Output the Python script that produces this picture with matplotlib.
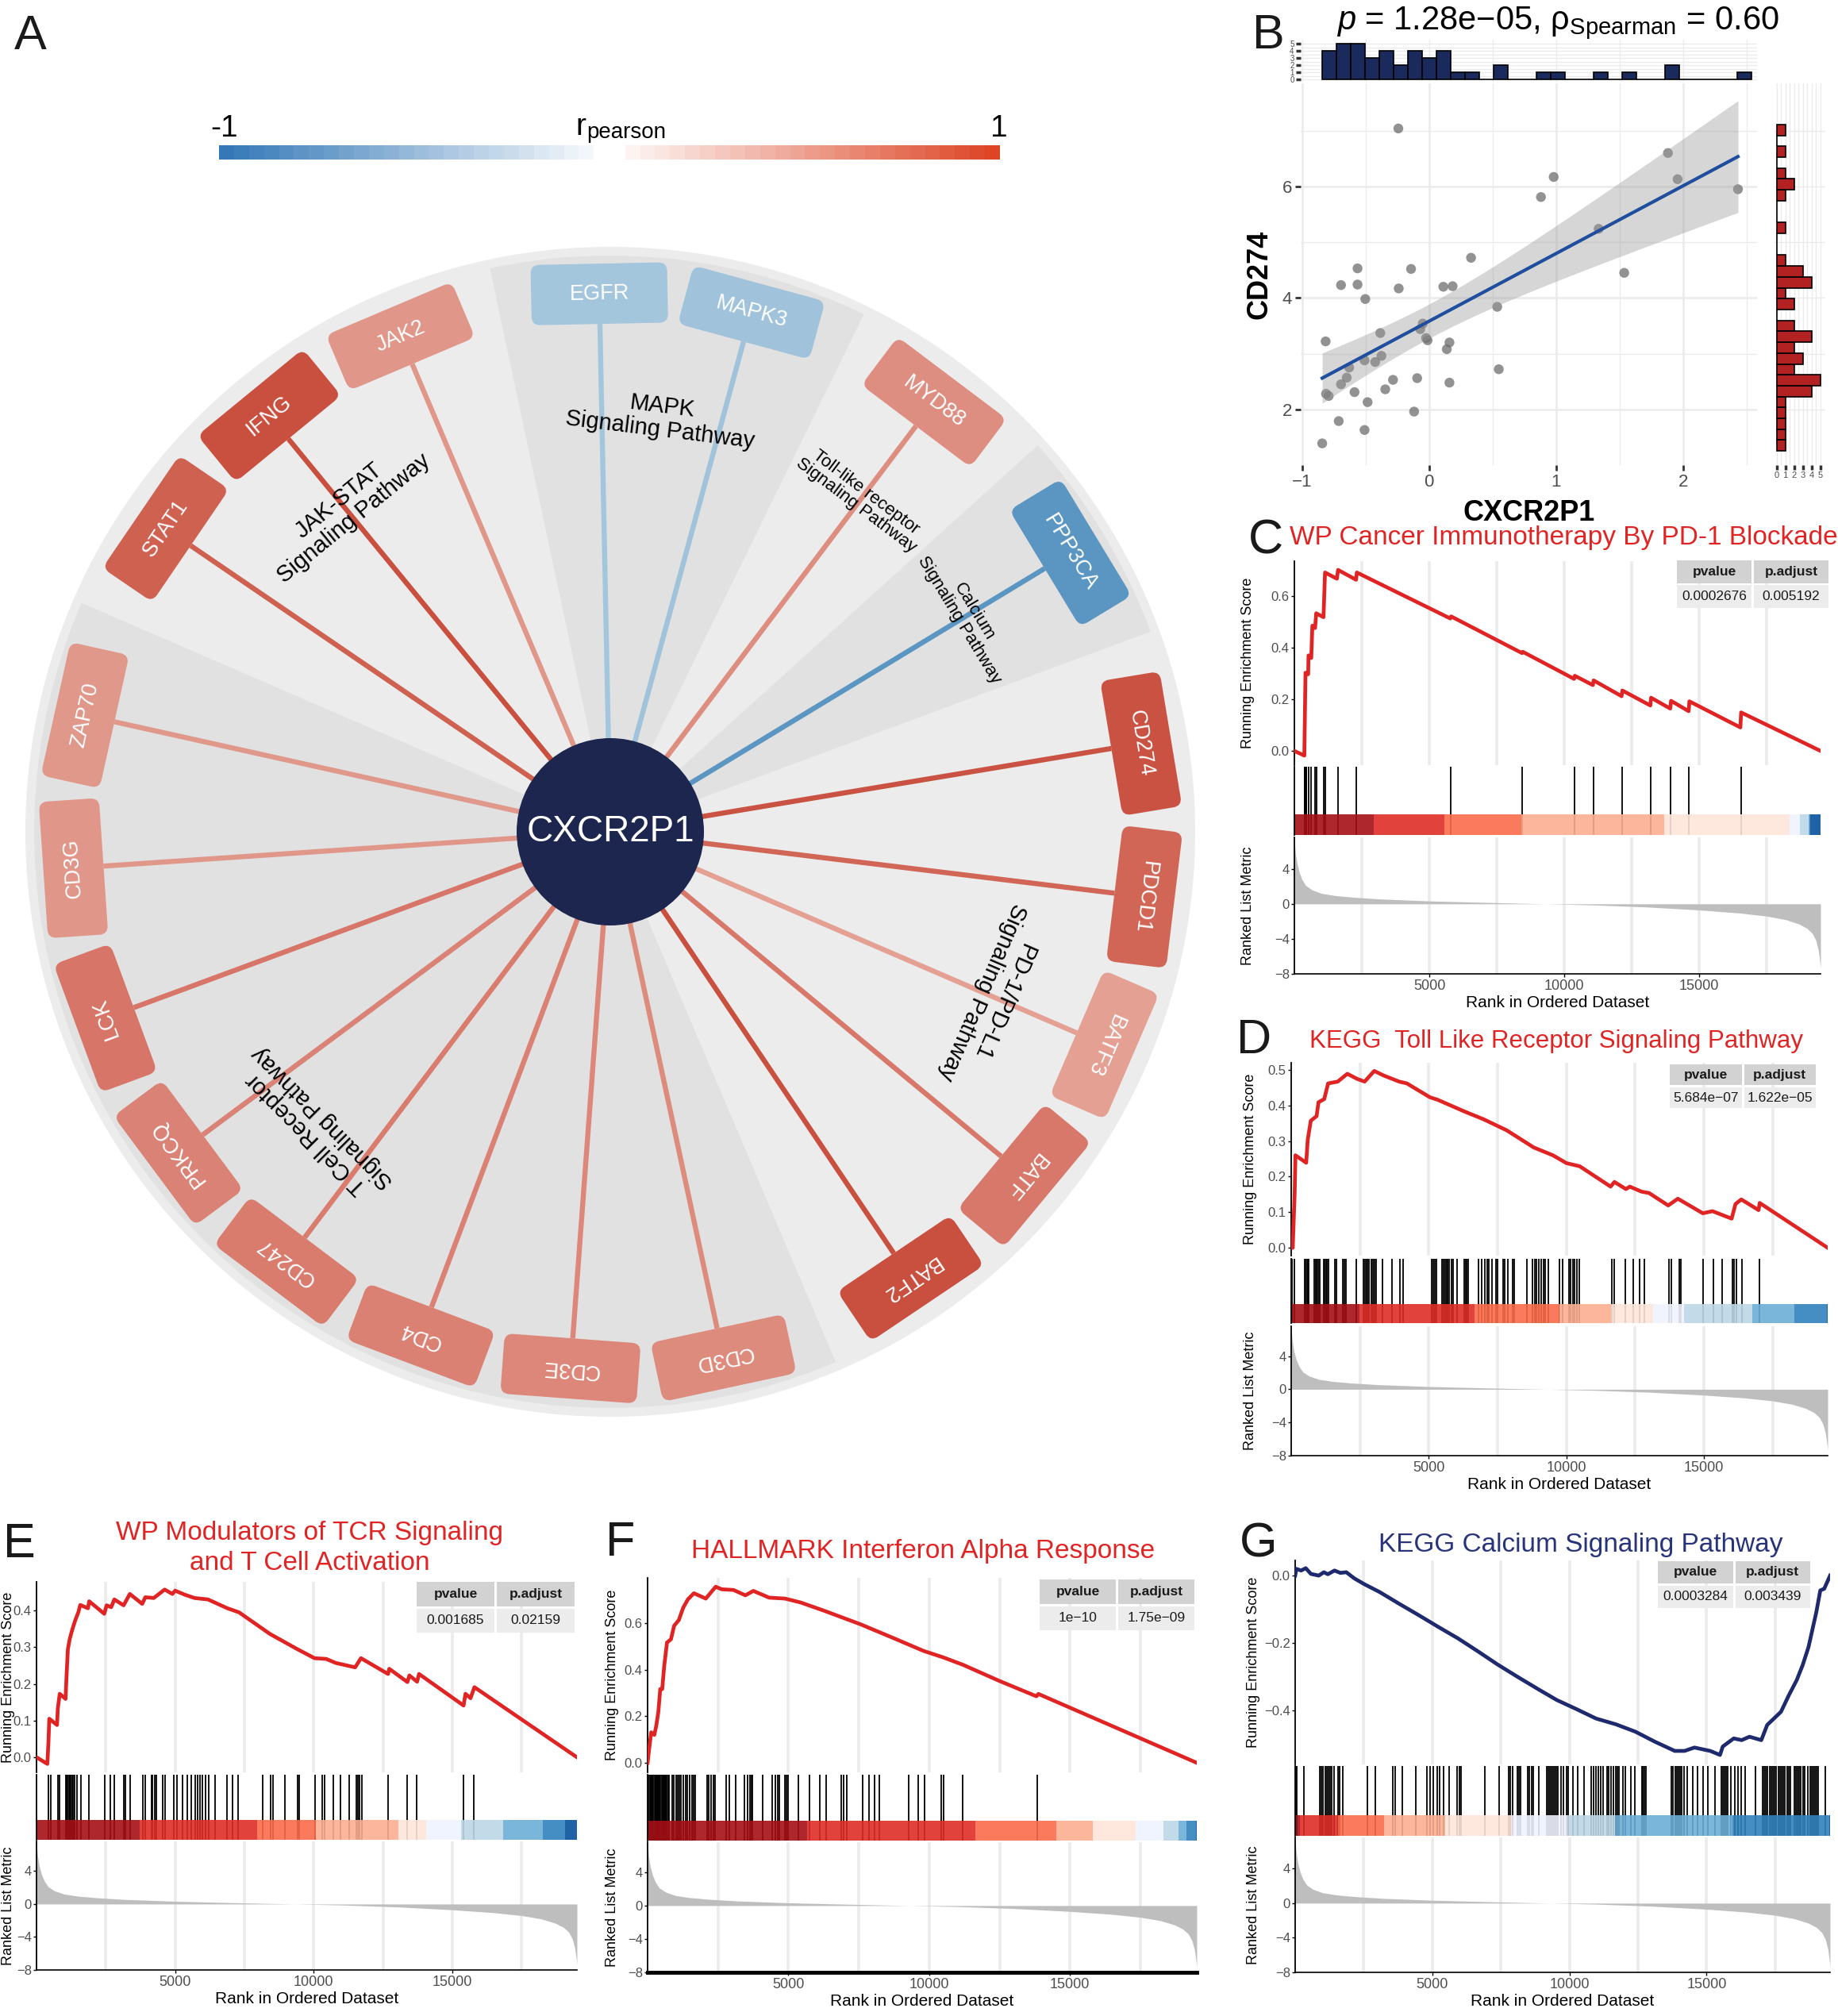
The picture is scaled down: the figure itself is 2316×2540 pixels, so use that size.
import numpy as np
import matplotlib
matplotlib.use("Agg")
import matplotlib.pyplot as plt
from matplotlib.patches import Rectangle, FancyBboxPatch, Circle, Wedge
from matplotlib.colors import LinearSegmentedColormap, Normalize
from matplotlib.transforms import Affine2D
from matplotlib.ticker import FuncFormatter

plt.rcParams['font.family'] = ['Liberation Sans', 'DejaVu Sans']
plt.rcParams['mathtext.fontset'] = 'custom'
plt.rcParams['mathtext.rm'] = 'Liberation Sans'
plt.rcParams['mathtext.it'] = 'Liberation Sans:italic'
plt.rcParams['mathtext.bf'] = 'Liberation Sans:bold'

# ===================== DATA =====================
# ---- Panel A : correlation network ----
hub_gene = 'CXCR2P1'
gene_names = ['STAT1', 'IFNG', 'JAK2', 'EGFR', 'MAPK3', 'MYD88', 'PPP3CA',
              'CD274', 'PDCD1', 'BATF3', 'BATF', 'BATF2',
              'CD3D', 'CD3E', 'CD4', 'CD247', 'PRKCQ', 'LCK', 'CD3G', 'ZAP70']
gene_r = [0.62, 0.70, 0.38, -0.35, -0.36, 0.42, -0.60,
          0.68, 0.60, 0.33, 0.52, 0.70,
          0.43, 0.45, 0.48, 0.50, 0.47, 0.53, 0.38, 0.37]
pathway_names = ['JAK-STAT\nSignaling Pathway', 'MAPK\nSignaling Pathway',
                 'Toll-like receptor\nSignaling Pathway', 'Calcium\nSignaling Pathway',
                 'PD-1/PD-L1\nSignaling Pathway', 'T Cell Receptor\nSignaling Pathway']
pathway_sizes = [3, 2, 1, 1, 5, 8]

# ---- Panel B : scatter ----
cxcr2p1_expr = [-0.242, 1.879, 0.980, 1.955, 2.43, 0.880, 1.334, 0.330, -0.563, -0.142,
                1.535, -0.693, -0.563, -0.239, 0.112, 0.185, -0.502, 0.536, -0.05, -0.070,
                -0.384, -0.024, -0.012, -0.814, 0.160, 0.139, -0.375, -0.508, -0.424, -0.629,
                0.548, -0.648, -0.094, -0.284, -0.693, 0.160, -0.345, -0.587, -0.811, -0.790,
                -0.484, -0.118, -0.711, -0.508, -0.841]
cd274_expr = [7.04, 6.60, 6.17, 6.13, 5.95, 5.81, 5.24, 4.72, 4.53, 4.52,
              4.45, 4.23, 4.24, 4.17, 4.20, 4.21, 3.98, 3.84, 3.54, 3.44,
              3.37, 3.28, 3.24, 3.22, 3.20, 3.08, 2.96, 2.88, 2.85, 2.75,
              2.72, 2.57, 2.56, 2.53, 2.45, 2.48, 2.36, 2.31, 2.28, 2.24,
              2.13, 1.96, 1.79, 1.63, 1.39]
x_hist_range = (-0.844, 2.534)
y_hist_range = (1.254, 7.11)
b_title = r'$\mathit{p}$ = 1.28e$-$05, $\mathrm{\rho}_{\mathrm{Spearman}}$ = 0.60'

# ---- GSEA panels (shared ranked list) ----
n_genes = 19500
metric_rank = [0, 40, 100, 180, 280, 420, 650, 1000, 1500, 2200, 3200, 5000, 7000, 9300,
               11000, 13000, 15000, 16500, 17500, 18200, 18700, 19000, 19200, 19330, 19420,
               19470, 19499]
metric_value = [7.3, 5.8, 4.6, 3.6, 2.8, 2.1, 1.6, 1.2, 0.95, 0.75, 0.55, 0.33, 0.17, 0.0,
                -0.12, -0.35, -0.7, -1.05, -1.4, -1.8, -2.3, -2.8, -3.4, -4.2, -5.3, -6.5, -7.3]

c_title = 'WP Cancer Immunotherapy By PD-1 Blockade'
c_es_rank = [0, 369, 412, 511, 525, 625, 667, 767, 809, 1079, 1136, 1576, 1619, 2286, 2315,
             5779, 5808, 8435, 8463, 10366, 10394, 11062, 11090, 12127, 12155, 13192, 13220,
             13930, 13959, 14612, 14640, 16529, 16557, 19500]
c_es = [0.0, -0.018, 0.303, 0.297, 0.370, 0.360, 0.485, 0.476, 0.533, 0.518, 0.691, 0.667,
        0.701, 0.663, 0.691, 0.513, 0.521, 0.379, 0.384, 0.279, 0.291, 0.255, 0.273, 0.212,
        0.234, 0.176, 0.206, 0.164, 0.194, 0.154, 0.192, 0.091, 0.149, 0.0]
c_hits = [369, 385, 400, 412, 425, 433, 440, 525, 625, 767, 809, 1079, 1136, 1619, 2286,
          5808, 8435, 10394, 11076, 12141, 13206, 13944, 14612, 16557]
c_pvalue, c_padjust = '0.0002676', '0.005192'

d_title = 'KEGG  Toll Like Receptor Signaling Pathway'
d_es_rank = [0, 56, 126, 154, 545, 601, 712, 922, 992, 1201, 1341, 1690, 2040, 2389, 2668,
             3018, 3367, 3926, 4205, 5043, 5323, 6300, 6999, 7837, 8815, 9513, 10003, 10491,
             11609, 11749, 12168, 12307, 12726, 13006, 13704, 14054, 14962, 15311, 16010,
             16149, 16359, 16987, 17029, 19500]
d_es = [0.0, 0.0, 0.154, 0.26, 0.239, 0.304, 0.357, 0.370, 0.409, 0.418, 0.462, 0.467, 0.489,
        0.475, 0.467, 0.497, 0.484, 0.467, 0.462, 0.423, 0.416, 0.383, 0.361, 0.330, 0.282,
        0.260, 0.238, 0.229, 0.172, 0.185, 0.165, 0.172, 0.158, 0.154, 0.119, 0.138, 0.097,
        0.103, 0.082, 0.123, 0.136, 0.106, 0.126, 0.0]
d_hits = [40, 110, 487, 526, 564, 603, 641, 833, 885, 923, 974, 1026, 1179, 1218, 1256, 1308,
          1359, 1577, 1641, 1885, 1936, 2000, 2372, 2628, 2679, 2731, 2782, 2833, 2923, 2974,
          3026, 3077, 3308, 3654, 3949, 4077, 5102, 5154, 5231, 5282, 5487, 5538, 5590, 5641,
          5692, 5743, 5833, 5872, 6025, 6282, 6333, 6384, 6436, 6820, 6923, 7051, 7128, 7179,
          7307, 7436, 7500, 7692, 7756, 7884, 8051, 8102, 8564, 8782, 8846, 8910, 9012, 9077,
          9166, 9230, 9359, 9743, 9871, 10102, 10153, 10230, 10307, 10384, 10461, 11666,
          11730, 12153, 12435, 12666, 12846, 13717, 13820, 14102, 14153, 14974, 15333,
          15666, 16025, 16089, 16179, 16384, 17025]
d_pvalue, d_padjust = '5.684e\u221207', '1.622e\u221205'

e_title = ['WP Modulators of TCR Signaling', 'and T Cell Activation']
e_es_rank = [0, 391, 433, 461, 740, 768, 838, 1048, 1090, 1132, 1201, 1299, 1397, 1509, 1579,
             1858, 1900, 2445, 2529, 2696, 2808, 3143, 3367, 3814, 3926, 4233, 4624, 4903,
             5001, 5351, 5700, 6189, 6887, 7306, 8424, 9402, 10030, 10450, 10799, 11497,
             11707, 12685, 12727, 13383, 13453, 13732, 13802, 15409, 15478, 15660, 15800, 19500]
e_es = [0.0, -0.018, 0.045, 0.105, 0.088, 0.132, 0.173, 0.159, 0.232, 0.295, 0.323, 0.35,
        0.373, 0.395, 0.415, 0.406, 0.425, 0.391, 0.414, 0.409, 0.43, 0.414, 0.445, 0.418,
        0.436, 0.434, 0.457, 0.445, 0.454, 0.443, 0.434, 0.43, 0.406, 0.395, 0.336, 0.295,
        0.27, 0.268, 0.257, 0.245, 0.27, 0.227, 0.241, 0.205, 0.223, 0.206, 0.227, 0.141,
        0.173, 0.161, 0.191, 0.0]
e_hits = [423, 513, 769, 833, 1051, 1090, 1128, 1167, 1205, 1244, 1282, 1320, 1372, 1449,
          1603, 1885, 2474, 2654, 2820, 3141, 3205, 3372, 3846, 3936, 4141, 4192, 4269, 4320,
          4551, 4628, 4961, 5064, 5256, 5449, 5577, 5731, 5807, 5897, 5987, 6090, 6218, 6449,
          6884, 7077, 7269, 8166, 8461, 8525, 8974, 9423, 9487, 10064, 10320, 10384, 10705,
          10961, 11282, 11538, 11602, 11666, 11730, 12692, 13371, 13717, 15410, 15769]
e_pvalue, e_padjust = '0.001685', '0.02159'

f_title = 'HALLMARK Interferon Alpha Response'
f_es_rank = [0, 70, 127, 239, 309, 380, 450, 520, 591, 689, 830, 942, 1111, 1265, 1434, 1645,
             2067, 2418, 2629, 3051, 3473, 3754, 4316, 4879, 5441, 6285, 7550, 8675, 9800,
             10503, 11206, 12471, 13807, 13877, 19500]
f_es = [0.0, 0.074, 0.131, 0.12, 0.16, 0.217, 0.317, 0.317, 0.417, 0.517, 0.531, 0.589, 0.614,
        0.667, 0.703, 0.729, 0.706, 0.757, 0.746, 0.743, 0.72, 0.739, 0.71, 0.706, 0.689,
        0.653, 0.596, 0.539, 0.481, 0.453, 0.421, 0.353, 0.286, 0.296, 0.0]
f_hits = [38, 75, 114, 150, 177, 210, 241, 270, 304, 340, 368, 400, 431, 460, 495, 530, 558,
          590, 622, 650, 685, 720, 749, 876, 939, 1003, 1066, 1130, 1193, 1282, 1358, 1409,
          1485, 1574, 1637, 1701, 2120, 2170, 2247, 2336, 2399, 2780, 2907, 3135, 3440, 3541,
          3643, 3694, 3732, 4075, 4430, 4532, 4621, 4684, 4874, 4938, 5001, 5344, 5737, 6118,
          6334, 6867, 6969, 7071, 7629, 7858, 8049, 8239, 9280, 9609, 9825, 10422, 10498,
          11196, 13823]
f_pvalue, f_padjust = '1e\u221210', '1.75e\u221209'

g_title = 'KEGG Calcium Signaling Pathway'
g_es_rank = [0, 43, 215, 387, 574, 860, 1047, 1190, 1434, 1649, 1864, 2151, 2510, 3083, 3800,
             4517, 5234, 5951, 6668, 7385, 8102, 8819, 9536, 10253, 10970, 11687, 12404, 13121,
             13838, 14197, 14555, 15129, 15487, 15588, 15989, 16276, 16563, 16993, 17208,
             17710, 17997, 18284, 18499, 18714, 19000, 19144, 19287, 19500]
g_es = [0.0, 0.020, 0.015, 0.022, 0.005, 0.0, 0.010, 0.004, 0.015, 0.008, 0.010, -0.008,
        -0.025, -0.049, -0.084, -0.118, -0.153, -0.187, -0.225, -0.264, -0.300, -0.335,
        -0.369, -0.396, -0.424, -0.441, -0.463, -0.493, -0.520, -0.520, -0.510, -0.520,
        -0.532, -0.507, -0.483, -0.488, -0.478, -0.488, -0.443, -0.404, -0.355, -0.310,
        -0.266, -0.212, -0.108, -0.044, -0.039, 0.0]
g_hits = [20, 64, 319, 893, 957, 1021, 1085, 1148, 1212, 1276, 1340, 1404, 1569, 1621, 1748,
          2641, 2935, 3573, 3637, 3917, 4402, 4811, 4913, 5040, 5168, 5270, 5423, 5627, 5908,
          5997, 6061, 6916, 7439, 7784, 7847, 7937, 8103, 8166, 8230, 8485, 8549, 8613, 8689,
          8868, 9161, 9225, 9276, 9353, 9404, 9455, 9506, 9583, 9698, 9787, 9889, 9953, 10119,
          10298, 10528, 10783, 10885, 10974, 11038, 11140, 11229, 11357, 11421, 11523, 11612,
          11676, 11740, 11804, 11957, 12034, 12251, 12378, 12632, 12671, 12722, 12799, 13717,
          13781, 13845, 13908, 13972, 14036, 14100, 14164, 14291, 14483, 14674, 14865, 15057,
          15312, 15529, 15606, 15657, 15708, 15759, 15886, 16014, 16142, 16269, 16397, 16779,
          17034, 17098, 17162, 17226, 17290, 17354, 17418, 17482, 17545, 17609, 17673, 17737,
          17801, 17865, 17928, 17992, 18056, 18184, 18248, 18312, 18375, 18439, 18503, 18567,
          18694, 18771, 18822, 18886, 18950, 19013, 19077, 19332]
g_pvalue, g_padjust = '0.0003284', '0.003439'

# ===================== FIGURE =====================
W, H = 2316, 2540
fig = plt.figure(figsize=(W / 100, H / 100), dpi=100)
fig.patch.set_facecolor('white')


def px_axes(x0, y0, x1, y1):
    return fig.add_axes([x0 / W, 1 - y1 / H, (x1 - x0) / W, (y1 - y0) / H])


def ftext(x, y, s, **kw):
    return fig.text(x / W, 1 - y / H, s, **kw)


NARROW = ['Liberation Sans Narrow', 'Liberation Sans', 'DejaVu Sans']

# ---------------- Panel A ----------------
axA = px_axes(0, 130, 1540, 1840)
axA.set_xlim(-769, 771)
axA.set_ylim(-792, 918)
axA.set_aspect('equal')
axA.axis('off')

R_disc, R_node, R_box = 737, 118, 678
box_len, box_dep = 172, 76
gap_ratio = 0.33
slot = 360.0 / (len(gene_names) + gap_ratio * len(pathway_names))
gap = gap_ratio * slot
start_angle = 156.6

node_cmap = LinearSegmentedColormap.from_list('node', [
    (0.0, '#2a6aa8'), (0.2, '#5b96c2'), (0.325, '#a4c6dd'), (0.5, '#f2f2f2'),
    (0.665, '#e3a194'), (0.75, '#d97d6f'), (0.85, '#c94f3f'), (1.0, '#b03020')])
rnorm = Normalize(-1, 1)

axA.add_patch(Circle((0, 0), R_disc, facecolor='#ececec', edgecolor='none', zorder=0))
gene_angles = []
sectors = []
ang = start_angle
for size in pathway_sizes:
    a0 = ang
    a = ang - gap / 2 - slot / 2
    for _ in range(size):
        gene_angles.append(a)
        a -= slot
    ang = a0 - size * slot - gap
    sectors.append((ang, a0))

for i, (a1, a2) in enumerate(sectors):
    if i % 2 == 1:
        axA.add_patch(Wedge((0, 0), R_disc * 0.985, a1, a2, facecolor='#e1e1e1',
                            edgecolor='none', zorder=0.5))

for name, r, th in zip(gene_names, gene_r, gene_angles):
    col = node_cmap(rnorm(r))
    t = np.deg2rad(th)
    r_in = R_box - box_dep / 2
    axA.plot([0, r_in * np.cos(t)], [0, r_in * np.sin(t)], color=col, lw=4.6,
             solid_capstyle='butt', zorder=2)
    cx, cy = R_box * np.cos(t), R_box * np.sin(t)
    box = FancyBboxPatch((-box_len / 2, -box_dep / 2), box_len, box_dep,
                         boxstyle='round,pad=0,rounding_size=11',
                         facecolor=col, edgecolor='none', zorder=3,
                         transform=Affine2D().rotate_deg(th - 90).translate(cx, cy) + axA.transData)
    axA.add_patch(box)
    axA.text(cx, cy, name, rotation=th - 90, rotation_mode='anchor', ha='center',
             va='center', color='white', fontsize=19.5, zorder=4)

for (a1, a2), label, size in zip(sectors, pathway_names, pathway_sizes):
    mid = (a1 + a2) / 2
    t = np.deg2rad(mid)
    rl = 525
    axA.text(rl * np.cos(t), rl * np.sin(t), label, rotation=mid - 90, rotation_mode='anchor',
             ha='center', va='center', multialignment='center',
             fontsize=16 if size == 1 else 21, color='black', linespacing=1.05, zorder=3.5)

axA.add_patch(Circle((0, 0), R_node, facecolor='#1c264e', edgecolor='none', zorder=5))
axA.text(0, 0, hub_gene, ha='center', va='center', color='white', fontsize=33, zorder=6)

# legend colour bar
leg_cmap = LinearSegmentedColormap.from_list('leg', ['#3176b6', '#ffffff', '#dc4222'])
axL = px_axes(276, 183, 1260, 201)
axL.set_xlim(-1, 1)
axL.set_ylim(0, 1)
axL.axis('off')
nstep = 25
for sgn in (-1, 1):
    for k in range(nstep):
        a = 0.04 + k * 0.96 / nstep
        b = a + 0.96 / nstep
        lo, hi = (a, b) if sgn > 0 else (-b, -a)
        axL.add_patch(Rectangle((lo, 0), hi - lo, 1, facecolor=leg_cmap(rnorm(sgn * (a + b) / 2)),
                                edgecolor='none'))
ftext(283, 172, '-1', fontsize=28, ha='center', va='baseline', family=NARROW)
ftext(1259, 172, '1', fontsize=28, ha='center', va='baseline', family=NARROW)
ftext(738, 170, 'r', fontsize=28, ha='right', va='baseline', family=NARROW)
ftext(739, 174, 'pearson', fontsize=20, ha='left', va='baseline', family=NARROW)

# ---------------- Panel B ----------------
x = np.array(cxcr2p1_expr)
y = np.array(cd274_expr)
axm = px_axes(1639, 105, 2214, 586)
axm.set_xlim(-1.01, 2.58)
axm.set_ylim(1.0, 7.85)
axm.set_xticks([-1, 0, 1, 2])
axm.set_xticks([-0.5, 0.5, 1.5, 2.5], minor=True)
axm.set_yticks([2, 4, 6])
axm.set_yticks([3, 5, 7], minor=True)
axm.grid(which='major', color='#ebebeb', lw=1.8, zorder=0)
axm.grid(which='minor', color='#ebebeb', lw=1.0, zorder=0)
axm.set_axisbelow(True)
for sp in axm.spines.values():
    sp.set_visible(False)
axm.tick_params(which='major', length=5, width=2, color='#333333', labelsize=16,
                labelcolor='#4d4d4d', pad=3)
axm.tick_params(which='minor', length=0)
coef = np.polyfit(x, y, 1)
xs = np.linspace(x.min(), x.max(), 200)
yfit = np.polyval(coef, xs)
n = len(x)
s_res = np.sqrt(np.sum((y - np.polyval(coef, x)) ** 2) / (n - 2))
sxx = np.sum((x - x.mean()) ** 2)
se = s_res * np.sqrt(1 / n + (xs - x.mean()) ** 2 / sxx)
t_crit = 2.0167
axm.scatter(x, y, s=80, color='#6e6e6e', alpha=0.75, edgecolors='none', zorder=2)
axm.fill_between(xs, yfit - t_crit * se, yfit + t_crit * se, color='#999999', alpha=0.4,
                 lw=0, zorder=3)
axm.plot(xs, yfit, color='#1f4e9e', lw=3, zorder=4)
axm.set_xlabel('CXCR2P1', fontsize=26, fontweight='bold', labelpad=8)
axm.set_ylabel('CD274', fontsize=26, fontweight='bold', labelpad=8)

axt = px_axes(1639, 50, 2214, 103)
axt.hist(x, bins=30, range=x_hist_range, color='#1b2a5c', edgecolor='black', lw=1.2, zorder=2)
axt.set_xlim(-1.01, 2.58)
axt.set_ylim(-0.33, 5.56)
axt.set_yticks(range(6))
axt.set_yticks(np.arange(0.5, 5, 1), minor=True)
axt.set_xticks([-1, 0, 1, 2])
axt.set_xticks([-0.5, 0.5, 1.5, 2.5], minor=True)
axt.grid(which='both', color='#ebebeb', lw=1.0, zorder=0)
axt.set_axisbelow(True)
axt.tick_params(axis='x', which='both', length=0, labelbottom=False)
axt.tick_params(axis='y', which='major', length=4, width=2.5, color='#333333', labelsize=7,
                labelcolor='#4d4d4d', pad=2)
axt.tick_params(axis='y', which='minor', length=0)
for sp in axt.spines.values():
    sp.set_visible(False)

axr = px_axes(2236, 105, 2300, 586)
axr.hist(y, bins=30, range=y_hist_range, orientation='horizontal', color='#b22222',
         edgecolor='black', lw=1.2, zorder=2)
axr.set_ylim(1.0, 7.85)
axr.set_xlim(-0.23, 5.55)
axr.set_xticks(range(6))
axr.set_xticks(np.arange(0.5, 5, 1), minor=True)
axr.set_yticks([2, 4, 6])
axr.set_yticks([3, 5, 7], minor=True)
axr.grid(which='both', color='#ebebeb', lw=1.0, zorder=0)
axr.set_axisbelow(True)
axr.tick_params(axis='y', which='both', length=0, labelleft=False)
axr.tick_params(axis='x', which='major', length=4, width=2.5, color='#333333', labelsize=8,
                labelcolor='#4d4d4d', pad=2)
axr.tick_params(axis='x', which='minor', length=0)
for sp in axr.spines.values():
    sp.set_visible(False)

ftext(1963, 37, b_title, fontsize=30, ha='center', va='baseline')

# ---------------- GSEA panels ----------------
BAR_COLS = ['#08519C', '#3182BD', '#6BAED6', '#BDD7E7', '#EFF3FF',
            '#FEE5D9', '#FCAE91', '#FB6A4A', '#DE2D26', '#A50F15']


def colorbar_segments(hits, n):
    pos = np.zeros(n)
    pos[np.asarray(hits, dtype=int)] = 1
    v = np.linspace(1, pos.sum(), 9)
    inv = np.searchsorted(v, np.cumsum(pos)[::-1], side='right')
    if inv.min() == 0:
        inv = inv + 1
    br = np.flatnonzero(np.diff(inv)) + 1
    starts = np.r_[0, br]
    ends = np.r_[br, n]
    return [(s, e, BAR_COLS[inv[s] - 1]) for s, e in zip(starts, ends)]


def fmt1(v, p):
    return ('%.1f' % v).replace('-', '\u2212')


def draw_table(x0, y0, x1, y1, pv, pa):
    g = 3
    xm = (x0 + x1) / 2
    ym = (y0 + y1) / 2
    cells = [((x0, y0, xm - g / 2, ym - g / 2), 'pvalue', '#d2d2d2', 'bold'),
             ((xm + g / 2, y0, x1, ym - g / 2), 'p.adjust', '#d2d2d2', 'bold'),
             ((x0, ym + g / 2, xm - g / 2, y1), pv, '#ececec', 'normal'),
             ((xm + g / 2, ym + g / 2, x1, y1), pa, '#ececec', 'normal')]
    for (a, b, c, d), s, col, wt in cells:
        fig.add_artist(Rectangle((a / W, 1 - d / H), (c - a) / W, (d - b) / H,
                                 transform=fig.transFigure, facecolor=col,
                                 edgecolor='none', zorder=5))
        fig.text((a + c) / 2 / W, 1 - (b + d) / 2 / H, s, ha='center', va='center',
                 fontsize=12.5, fontweight=wt, color='#1a1a1a', zorder=6)


def gsea_panel(x0, x1, es_y, hit_y, met_y, es_rank, es_val, hits, es_lim, es_ticks,
               line_color, table_box, pv, pa, label_gap, bottom_lw=1.2):
    ax1 = px_axes(x0, es_y[0], x1, es_y[1])
    ax2 = px_axes(x0, hit_y[0], x1, hit_y[1])
    ax3 = px_axes(x0, met_y[0], x1, met_y[1])
    grid_pos = np.arange(2500, n_genes, 2500)
    for ax in (ax1, ax3):
        for gp in grid_pos:
            ax.axvline(gp, color='#ebebeb', lw=2.6, zorder=0)
    ax1.plot(es_rank, es_val, color=line_color, lw=3.4, zorder=3, solid_joinstyle='round')
    ax1.set_xlim(0, n_genes)
    ax1.set_ylim(*es_lim)
    ax1.set_yticks(es_ticks)
    ax1.yaxis.set_major_formatter(FuncFormatter(fmt1))
    ax1.set_xticks([])
    for sp in ('top', 'right', 'bottom'):
        ax1.spines[sp].set_visible(False)
    ax1.spines['left'].set_linewidth(1.3)
    ax1.tick_params(axis='y', labelsize=12, labelcolor='#4d4d4d', length=3, width=1, pad=1.5)
    ax1.set_ylabel('Running Enrichment Score', fontsize=13)
    ax1.yaxis.set_label_coords(-label_gap / (x1 - x0), 0.5)

    ax2.vlines(hits, 0, 1, color='black', lw=1.3, zorder=1)
    for s, e, c in colorbar_segments(hits, n_genes):
        ax2.add_patch(Rectangle((s, 0), e - s, 0.3, facecolor=c, edgecolor='none',
                                alpha=0.9, zorder=2))
    ax2.set_xlim(0, n_genes)
    ax2.set_ylim(0, 1)
    ax2.set_xticks([])
    ax2.set_yticks([])
    for sp in ('top', 'right', 'bottom'):
        ax2.spines[sp].set_visible(False)
    ax2.spines['left'].set_linewidth(1.3)

    ax3.fill_between(metric_rank, metric_value, 0, color='#bebebe', lw=0, zorder=2)
    ax3.set_xlim(0, n_genes)
    ax3.set_ylim(-8, 7.6)
    ax3.set_yticks([-8, -4, 0, 4])
    ax3.set_xticks([5000, 10000, 15000])
    for sp in ('top', 'right'):
        ax3.spines[sp].set_visible(False)
    ax3.spines['left'].set_linewidth(1.3)
    ax3.spines['bottom'].set_linewidth(bottom_lw)
    ax3.tick_params(axis='y', labelsize=12, labelcolor='#4d4d4d', length=3, width=1, pad=1.5)
    ax3.tick_params(axis='x', labelsize=13, labelcolor='#4d4d4d', length=3, width=1, pad=2)
    ax3.set_ylabel('Ranked List Metric', fontsize=13)
    ax3.yaxis.set_label_coords(-label_gap / (x1 - x0), 0.5)
    ax3.set_xlabel('Rank in Ordered Dataset', fontsize=15, labelpad=2)
    draw_table(*table_box, pv, pa)


RED = '#e02424'
NAVY = '#1f2a6e'
gsea_panel(1631, 2294, (707, 964), (966, 1052), (1055, 1227), c_es_rank, c_es, c_hits,
           (-0.055, 0.735), [0, 0.2, 0.4, 0.6], RED, (2113, 706, 2304, 766),
           c_pvalue, c_padjust, 50)
gsea_panel(1627, 2303, (1339, 1582), (1586, 1667), (1671, 1834), d_es_rank, d_es, d_hits,
           (-0.022, 0.52), [0, 0.1, 0.2, 0.3, 0.4, 0.5], RED, (2104, 1341, 2288, 1396),
           d_pvalue, d_padjust, 43)
gsea_panel(46, 727, (1993, 2233), (2236, 2318), (2320, 2482), e_es_rank, e_es, e_hits,
           (-0.041, 0.478), [0, 0.1, 0.2, 0.3, 0.4], RED, (525, 1993, 724, 2057),
           e_pvalue, e_padjust, 27)
gsea_panel(816, 1508, (1988, 2233), (2236, 2319), (2321, 2485), f_es_rank, f_es, f_hits,
           (-0.041, 0.795), [0, 0.2, 0.4, 0.6], RED, (1310, 1990, 1505, 2054),
           f_pvalue, f_padjust, 36, bottom_lw=3.5)
gsea_panel(1632, 2306, (1966, 2223), (2225, 2313), (2315, 2485), g_es_rank, g_es, g_hits,
           (-0.56, 0.045), [-0.4, -0.2, 0.0], NAVY, (2089, 1967, 2281, 2026),
           g_pvalue, g_padjust, 44)

# titles
ftext(1970, 686, c_title, fontsize=24, color=RED, ha='center', va='baseline')
ftext(1961, 1320, d_title, fontsize=22.5, color=RED, ha='center', va='baseline')
ftext(390, 1940, e_title[0], fontsize=24, color=RED, ha='center', va='baseline')
ftext(390, 1978, e_title[1], fontsize=24, color=RED, ha='center', va='baseline')
ftext(1163, 1963, f_title, fontsize=24, color=RED, ha='center', va='baseline')
ftext(1992, 1955, g_title, fontsize=24, color='#27337a', ha='center', va='baseline')

# panel letters
for letter, (lx, ly) in {'A': (38, 62), 'B': (1598, 61), 'C': (1595, 697), 'D': (1580, 1327),
                         'E': (24, 1962), 'F': (782, 1960), 'G': (1586, 1962)}.items():
    ftext(lx, ly, letter, fontsize=44, ha='center', va='baseline', color='#1a1a1a')

fig.savefig('out.png', dpi=100, facecolor='white')
